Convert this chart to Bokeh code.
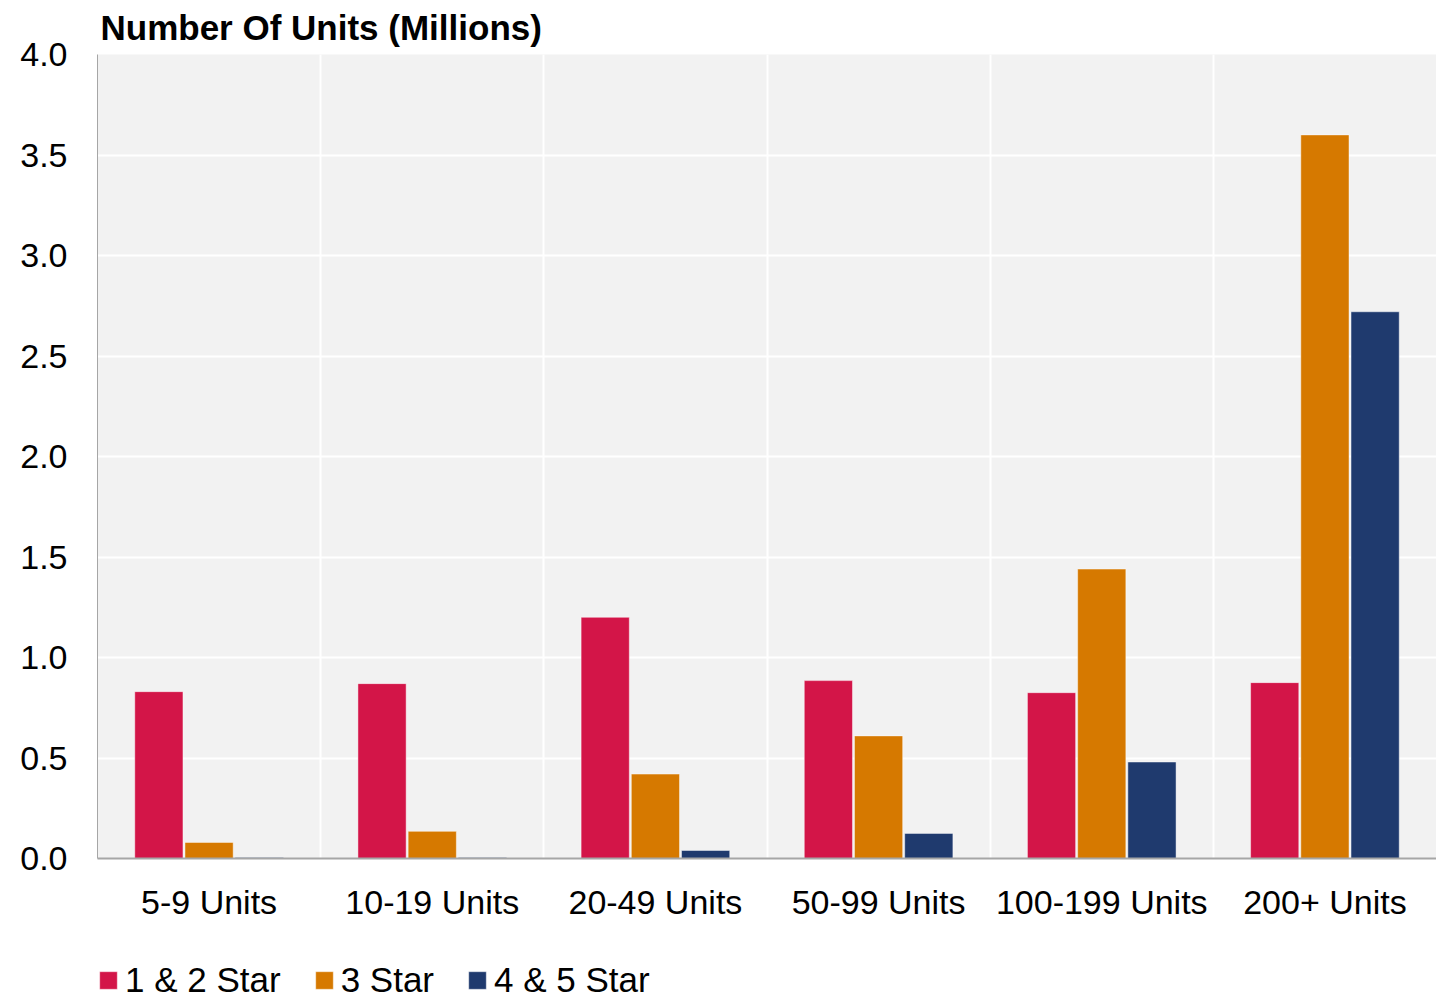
from bokeh.plotting import figure
from bokeh.layouts import column
from bokeh.models import (ColumnDataSource, FixedTicker, Legend, LegendItem,
                          NumeralTickFormatter, Range1d)
from bokeh.embed import file_html
from bokeh.resources import INLINE

# Unit-size bands and star-rating series (millions of units)
categories = ["5-9 Units", "10-19 Units", "20-49 Units", "50-99 Units",
              "100-199 Units", "200+ Units"]
star_1_2 = [0.83, 0.87, 1.20, 0.885, 0.825, 0.875]
star_3 = [0.08, 0.135, 0.42, 0.61, 1.44, 3.60]
star_4_5 = [0.005, 0.005, 0.04, 0.125, 0.48, 2.72]
series_names = ["1 & 2 Star", "3 Star", "4 & 5 Star"]
series_colors = ["#d31548", "#d67900", "#1f3a6e"]

FONT = "Liberation Sans"
FS = "34px"

p = figure(frame_width=1339, frame_height=804, output_backend="svg",
           toolbar_location=None,
           x_range=Range1d(0, len(categories)), y_range=Range1d(0, 4),
           min_border_left=97, min_border_right=0, min_border_top=54,
           min_border_bottom=82)

p.background_fill_color = "#f2f2f2"
p.border_fill_color = "white"
p.outline_line_color = None

p.title.text = "Number Of Units (Millions)"
p.title.text_font = FONT
p.title.text_font_size = "35px"
p.title.text_font_style = "bold"
p.title.text_color = "#000000"
p.title.text_line_height = 0.7
p.title.vertical_align = "top"
p.title.offset = 3
p.title.standoff = 12

centers = [i + 0.5 for i in range(len(categories))]
offsets = [-0.225, 0.0, 0.225]
renderers = []
for vals, off, col in zip([star_1_2, star_3, star_4_5], offsets, series_colors):
    src = ColumnDataSource(dict(x=[c + off for c in centers], top=vals))
    r = p.vbar(x="x", top="top", bottom=0, width=0.216, source=src,
               fill_color=col, line_color="white", line_alpha=0.45, line_width=1)
    renderers.append(r)

# axes
p.xaxis.ticker = FixedTicker(ticks=centers)
p.xaxis.major_label_overrides = {c: name for c, name in zip(centers, categories)}
p.xaxis.major_label_text_font = FONT
p.xaxis.major_label_text_font_size = FS
p.xaxis.major_label_text_color = "#000000"
p.xaxis.major_label_standoff = 24
p.xaxis.axis_line_color = "#a6a6a6"
p.xaxis.axis_line_width = 2
p.xaxis.major_tick_line_color = None
p.xaxis.minor_tick_line_color = None
p.xaxis.major_tick_out = 0
p.xaxis.major_tick_in = 0

p.yaxis.ticker = FixedTicker(ticks=[0, 0.5, 1.0, 1.5, 2.0, 2.5, 3.0, 3.5, 4.0])
p.yaxis.formatter = NumeralTickFormatter(format="0.0")
p.yaxis.major_label_text_font = FONT
p.yaxis.major_label_text_font_size = FS
p.yaxis.major_label_text_color = "#000000"
p.yaxis.major_label_standoff = 24
p.yaxis.axis_line_color = "#a6a6a6"
p.yaxis.axis_line_width = 1
p.yaxis.major_tick_line_color = None
p.yaxis.minor_tick_line_color = None

p.xgrid.ticker = FixedTicker(ticks=list(range(1, len(categories))))
p.xgrid.grid_line_color = "white"
p.xgrid.grid_line_width = 2
p.ygrid.grid_line_color = "white"
p.ygrid.grid_line_width = 2

# legend strip beneath the chart
lg = figure(width=1436, height=60, output_backend="svg", toolbar_location=None,
            x_range=Range1d(0, 1), y_range=Range1d(0, 1),
            min_border=0, outline_line_color=None)
lg.axis.visible = False
lg.grid.visible = False
lg.border_fill_color = "white"
lg.background_fill_color = "white"
lg_renderers = []
for col in series_colors:
    lg_renderers.append(lg.vbar(x=[-5], top=[0], width=0.1, fill_color=col,
                                line_color="white", line_alpha=0.45))

legend = Legend(items=[LegendItem(label=n, renderers=[r])
                       for n, r in zip(series_names, lg_renderers)],
                orientation="horizontal", location=(0, 0),
                label_text_font=FONT, label_text_font_size="35px",
                label_text_color="#000000", glyph_width=22, glyph_height=22,
                label_standoff=6, spacing=32, padding=0, margin=0,
                label_height=30, border_line_color=None,
                background_fill_alpha=0)
lg.add_layout(legend)

layout = column(p, lg, spacing=0)
open("out.html", "w").write(file_html(layout, INLINE))
